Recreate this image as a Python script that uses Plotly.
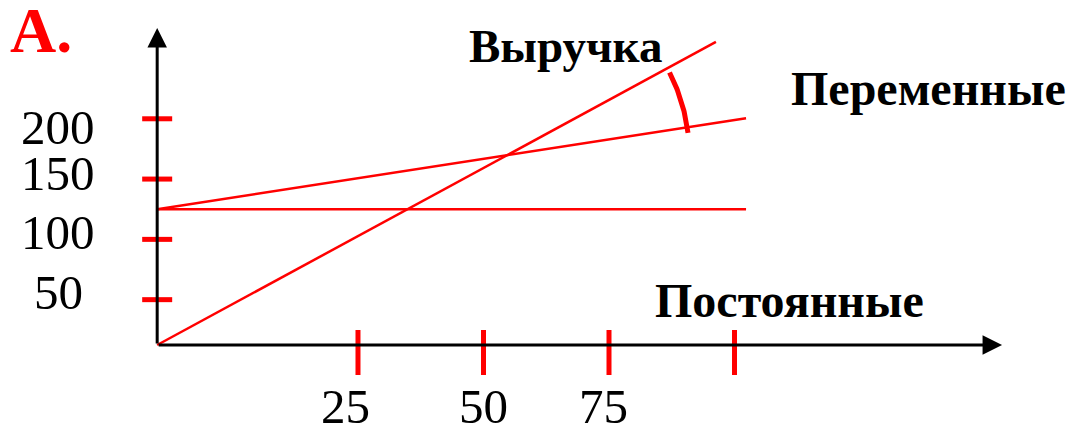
import numpy as np
import plotly.graph_objects as go

# --- chart values ---------------------------------------------------------
# axis origin of the schematic (the axes cross here)
origin_x = -15.0
origin_y = 12.4

# revenue line: starts at the origin
revenue_x = [origin_x, 96.3]
revenue_y = [origin_y, 263.7]

# total (fixed + variable) costs
variable_x = [origin_x, 102.3]
variable_y = [125.0, 200.5]

# fixed costs
fixed_x = [origin_x, 102.3]
fixed_y = [125.0, 125.0]

# tick values and labels
x_tick_vals = [25, 50, 75, 100]
x_tick_text = ["25", "50", "75", ""]
y_tick_vals = [50, 100, 150, 200]
y_tick_text = ["50", "100", "150", "200"]

# axis extent (arrow tips)
x_axis_end = 153.3
y_axis_end = 275.3

# --- layout constants -----------------------------------------------------
W, H = 1069, 427
X_RANGE = [-46.31, 166.63]
Y_RANGE = [-55.6, 298.5]
PX_PER_X = W / (X_RANGE[1] - X_RANGE[0])
PX_PER_Y = H / (Y_RANGE[1] - Y_RANGE[0])

RED = "#ff0000"
SERIF = "Liberation Serif, Times New Roman, serif"

fig = go.Figure()

line_style = dict(color=RED, width=2.5)
fig.add_trace(go.Scatter(x=revenue_x, y=revenue_y, mode="lines", line=line_style,
                         hoverinfo="skip", showlegend=False))
fig.add_trace(go.Scatter(x=variable_x, y=variable_y, mode="lines", line=line_style,
                         hoverinfo="skip", showlegend=False))
fig.add_trace(go.Scatter(x=fixed_x, y=fixed_y, mode="lines", line=line_style,
                         hoverinfo="skip", showlegend=False))

# angle marker between revenue and total costs, centred on their intersection
k_rev = (revenue_y[1] - revenue_y[0]) / (revenue_x[1] - revenue_x[0])
k_var = (variable_y[1] - variable_y[0]) / (variable_x[1] - variable_x[0])
xi = origin_x + (variable_y[0] - revenue_y[0]) / (k_rev - k_var)
yi = revenue_y[0] + k_rev * (xi - origin_x)
radius_px = 182
theta = np.radians(np.linspace(7, 27, 40))
arc_x = xi + radius_px * np.cos(theta) / PX_PER_X
arc_y = yi + radius_px * np.sin(theta) / PX_PER_Y
fig.add_trace(go.Scatter(x=arc_x, y=arc_y, mode="lines",
                         line=dict(color=RED, width=5), hoverinfo="skip",
                         showlegend=False))

# axes with arrow heads
axis_arrow = dict(showarrow=True, arrowhead=2, arrowsize=1.3, arrowwidth=3,
                  arrowcolor="black", axref="x", ayref="y", text="", standoff=0)
fig.add_annotation(x=origin_x, y=y_axis_end, ax=origin_x, ay=origin_y, **axis_arrow)
fig.add_annotation(x=x_axis_end, y=origin_y, ax=origin_x, ay=origin_y, **axis_arrow)

# red tick marks
for v in y_tick_vals:
    fig.add_shape(type="line", xref="x", yref="y", xsizemode="pixel",
                  xanchor=origin_x, x0=-15, x1=15, y0=v, y1=v,
                  line=dict(color=RED, width=5))
for v in x_tick_vals:
    fig.add_shape(type="line", xref="x", yref="y", ysizemode="pixel",
                  yanchor=origin_y, y0=-30, y1=15, x0=v, x1=v,
                  line=dict(color=RED, width=5))

# tick labels
tick_font = dict(family=SERIF, size=49, color="black")
x_label_shift = [-12, 0, -6, 0]
for v, t, s in zip(x_tick_vals, x_tick_text, x_label_shift):
    if t:
        fig.add_annotation(x=v, y=origin_y, text=t, showarrow=False,
                           xanchor="center", yanchor="middle",
                           xshift=s, yshift=-61, font=tick_font)
y_label_shift = [7, 7, 6, -9]
for v, t, s in zip(y_tick_vals, y_tick_text, y_label_shift):
    fig.add_annotation(x=origin_x, y=v, text=t, showarrow=False,
                       xanchor="center", yanchor="middle",
                       xshift=-99, yshift=s, font=tick_font)

# series names and panel letter
fig.add_annotation(x=66.4, y=260.0, text="<b>Выручка</b>", showarrow=False,
                   xanchor="center", yanchor="middle",
                   font=dict(family=SERIF, size=47, color="black"))
fig.add_annotation(x=138.7, y=225.5, text="<b>Переменные</b>", showarrow=False,
                   xanchor="center", yanchor="middle",
                   font=dict(family=SERIF, size=48, color="black"))
fig.add_annotation(x=110.9, y=48.9, text="<b>Постоянные</b>", showarrow=False,
                   xanchor="center", yanchor="middle",
                   font=dict(family=SERIF, size=48, color="black"))
fig.add_annotation(x=-44.8, y=273.2, text="<b>А.</b>", showarrow=False,
                   xanchor="left", yanchor="middle",
                   font=dict(family=SERIF, size=64, color=RED))

fig.update_layout(
    width=W, height=H, autosize=False,
    margin=dict(l=0, r=0, t=0, b=0),
    paper_bgcolor="white", plot_bgcolor="white",
    xaxis=dict(range=X_RANGE, visible=False, fixedrange=True),
    yaxis=dict(range=Y_RANGE, visible=False, fixedrange=True),
    showlegend=False,
)

fig.write_html("out.html", config={"displayModeBar": False})
